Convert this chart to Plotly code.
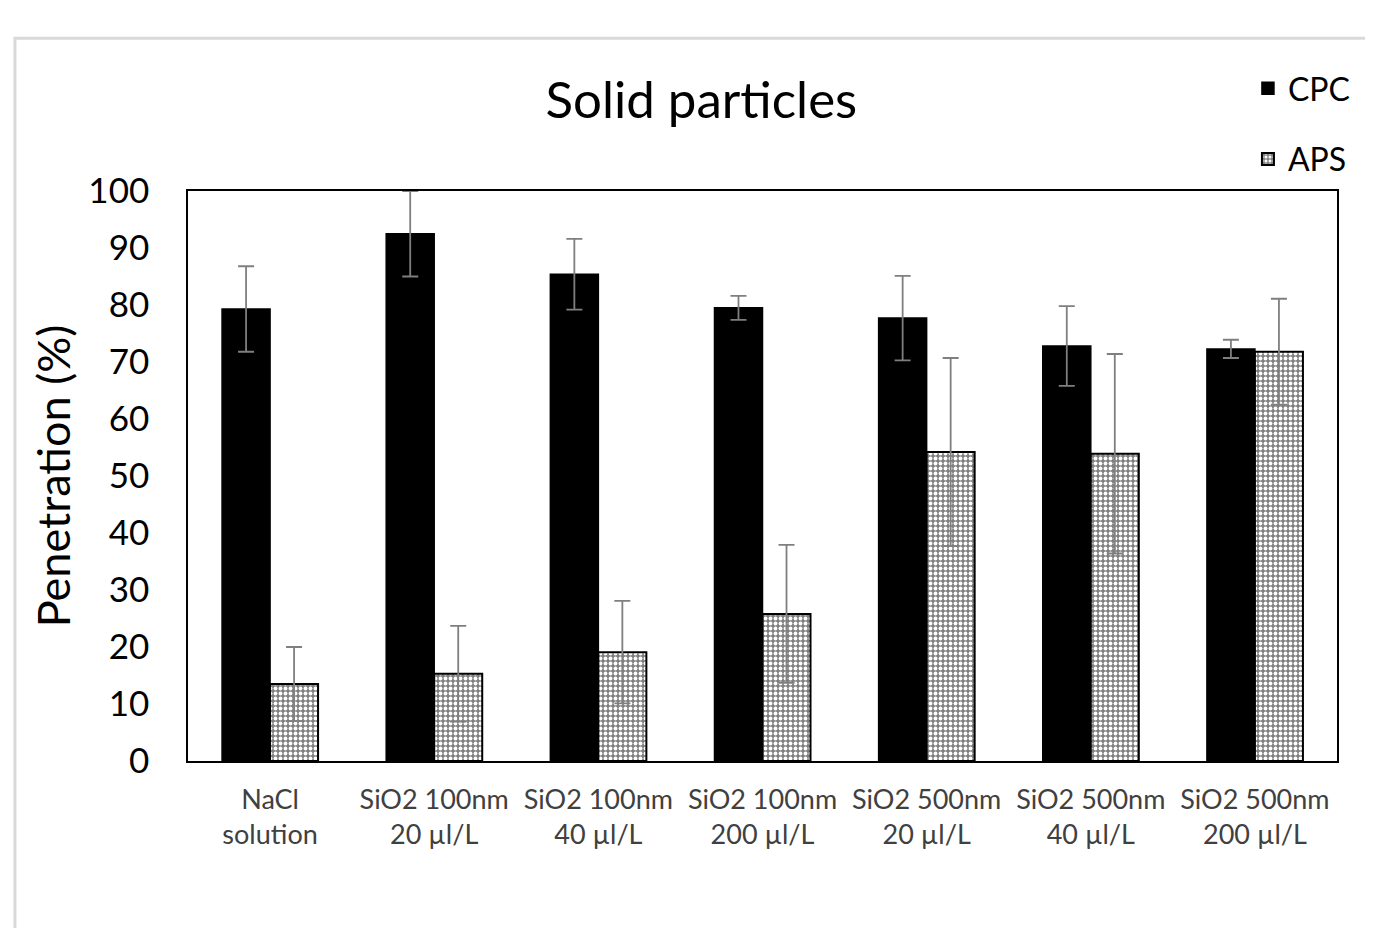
import plotly.graph_objects as go

categories = ["NaCl<br>solution", "SiO2 100nm<br>20 µl/L", "SiO2 100nm<br>40 µl/L",
              "SiO2 100nm<br>200 µl/L", "SiO2 500nm<br>20 µl/L", "SiO2 500nm<br>40 µl/L",
              "SiO2 500nm<br>200 µl/L"]
cpc = [79.3, 92.5, 85.4, 79.5, 77.7, 72.8, 72.3]
cpc_err = [7.5, 7.5, 6.2, 2.1, 7.4, 7.0, 1.6]
aps = [13.5, 15.3, 19.1, 25.8, 54.2, 53.9, 71.8]
aps_err = [6.5, 8.4, 9.0, 12.1, 16.5, 17.5, 9.3]
y_ticks = [0, 10, 20, 30, 40, 50, 60, 70, 80, 90, 100]

FONT = "Lato"
err_style = dict(type="data", visible=True, color="#7f7f7f", thickness=1.8, width=8)

fig = go.Figure()
fig.add_trace(go.Bar(
    x=categories, y=cpc, name="CPC", legendgroup="a",
    marker=dict(color="black", line=dict(color="black", width=1.5)),
    error_y=dict(array=cpc_err, **err_style),
))
fig.add_trace(go.Bar(
    x=categories, y=aps, name="APS", legendgroup="b",
    marker=dict(color="#8a8a8a", line=dict(color="black", width=2),
                pattern=dict(shape=".", fgcolor="white", bgcolor="#808080",
                             size=5, solidity=0.45, fillmode="replace")),
    error_y=dict(array=aps_err, **err_style),
))

fig.update_layout(
    width=1373, height=928,
    margin=dict(l=180, r=44, t=183, b=175, autoexpand=False),
    paper_bgcolor="white", plot_bgcolor="white",
    barmode="group", bargap=0.415, bargroupgap=0,
    font=dict(family=FONT, color="#000000"),
    title=dict(text="Solid particles", x=0.505, xanchor="center", y=0.901, yanchor="middle",
               font=dict(size=51, family=FONT, color="#000000")),
    showlegend=True,
    legend=dict(x=0.9225, xanchor="left", y=1.228, yanchor="top",
                font=dict(size=32, family=FONT, color="#000000"),
                tracegroupgap=26, bgcolor="rgba(0,0,0,0)", itemwidth=30),
    xaxis=dict(showline=True, linecolor="black", linewidth=1.5, mirror=True,
               ticks="", ticklabelstandoff=14,
               tickfont=dict(size=27, family=FONT, color="#404040")),
    yaxis=dict(range=[0, 100], tickvals=y_ticks, showline=True, linecolor="black",
               linewidth=1.5, mirror=True, ticks="", showgrid=False, zeroline=False,
               ticklabelstandoff=30,
               tickfont=dict(size=35, family=FONT, color="#000000"),
               title=dict(text="Penetration (%)", font=dict(size=45, family=FONT, color="#000000"),
                          standoff=4)),
    shapes=[dict(type="rect", xref="paper", yref="paper", x0=-0.1506, x1=1.2,
                 y0=-0.5, y1=1.268, line=dict(color="#d9d9d9", width=3), layer="below")],
)

fig.write_html("out.html")
